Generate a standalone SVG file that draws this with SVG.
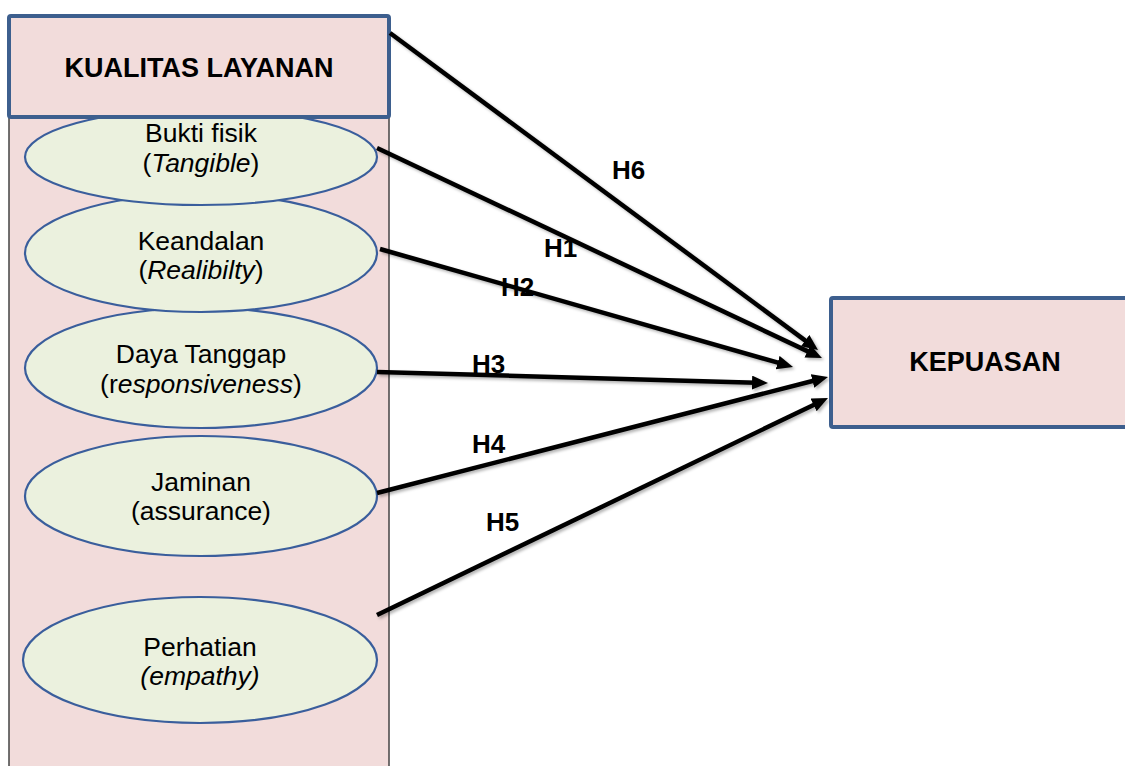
<svg xmlns="http://www.w3.org/2000/svg" width="1125" height="766" viewBox="0 0 1125 766">
  <style>
    .box { fill: #f2dcdb; stroke: #3d5f8e; stroke-width: 4; }
    .ell { fill: #ebf1de; stroke: #3a5e9c; stroke-width: 2.2; }
    .t { font-family: "Liberation Sans", Arial, sans-serif; font-size: 26.5px; fill: #000; text-anchor: middle; }
    .b { font-family: "Liberation Sans", Arial, sans-serif; font-size: 27px; font-weight: bold; fill: #000; text-anchor: middle; }
    .h { font-family: "Liberation Sans", Arial, sans-serif; font-size: 26px; font-weight: bold; fill: #000; }
    .i { font-style: italic; }
    .c { stroke: #000; stroke-width: 4.5; fill: none; marker-end: url(#ah); }
  </style>
  <defs>
    <marker id="ah" markerUnits="userSpaceOnUse" markerWidth="18" markerHeight="16" refX="4" refY="7" orient="auto">
      <path d="M0,0 L16,7 L0,14 z" fill="#000"/>
    </marker>
    <filter id="sh" x="-5%" y="-5%" width="110%" height="110%">
      <feDropShadow dx="2" dy="2" stdDeviation="1.5" flood-color="#000" flood-opacity="0.3"/>
    </filter>
  </defs>
  <rect width="1125" height="766" fill="#fff"/>

  <g id="panel">
    <rect x="9" y="110" width="380" height="700" fill="#f2dcdb" stroke="#444" stroke-width="1.5"/>
  </g>

  <g id="perhatian">
    <ellipse class="ell" cx="200" cy="660" rx="177" ry="63"/>
    <text class="t" x="200" y="656">Perhatian</text>
    <text class="t i" x="200" y="685">(empathy)</text>
  </g>
  <g id="jaminan">
    <ellipse class="ell" cx="201" cy="496" rx="176" ry="60"/>
    <text class="t" x="201" y="491">Jaminan</text>
    <text class="t" x="201" y="520">(assurance)</text>
  </g>
  <g id="daya-tanggap">
    <ellipse class="ell" cx="201" cy="368" rx="176" ry="60"/>
    <text class="t" x="201" y="363">Daya Tanggap</text>
    <text class="t" x="201" y="393">(r<tspan class="i">esponsiveness</tspan>)</text>
  </g>
  <g id="keandalan">
    <ellipse class="ell" cx="201" cy="253" rx="176" ry="59"/>
    <text class="t" x="201" y="250">Keandalan</text>
    <text class="t" x="201" y="279">(<tspan class="i">Realibilty</tspan>)</text>
  </g>
  <g id="bukti-fisik">
    <ellipse class="ell" cx="201" cy="157" rx="176" ry="48"/>
    <text class="t" x="201" y="142">Bukti fisik</text>
    <text class="t" x="201" y="172">(<tspan class="i">Tangible</tspan>)</text>
  </g>

  <g id="kualitas-layanan">
    <rect class="box" x="9" y="16" width="380" height="101" rx="2"/>
    <text class="b" x="199" y="77">KUALITAS LAYANAN</text>
  </g>

  <g id="kepuasan">
    <rect class="box" x="831" y="298" width="310" height="129" rx="2"/>
    <text class="b" x="985" y="371">KEPUASAN</text>
  </g>

  <g id="connectors" filter="url(#sh)">
    <line class="c" x1="390" y1="33" x2="808.4" y2="342.9"/>
    <line class="c" x1="377" y1="148" x2="811.1" y2="352.9"/>
    <line class="c" x1="380" y1="249" x2="781.5" y2="363.7"/>
    <line class="c" x1="377" y1="372" x2="756" y2="382.7"/>
    <line class="c" x1="377" y1="493" x2="816.4" y2="380"/>
    <line class="c" x1="377" y1="615" x2="817.2" y2="403.2"/>
  </g>

  <g id="labels">
    <text class="h" x="612" y="179">H6</text>
    <text class="h" x="544" y="257">H1</text>
    <text class="h" x="501" y="296">H2</text>
    <text class="h" x="472" y="373">H3</text>
    <text class="h" x="472" y="453">H4</text>
    <text class="h" x="486" y="531">H5</text>
  </g>
</svg>
